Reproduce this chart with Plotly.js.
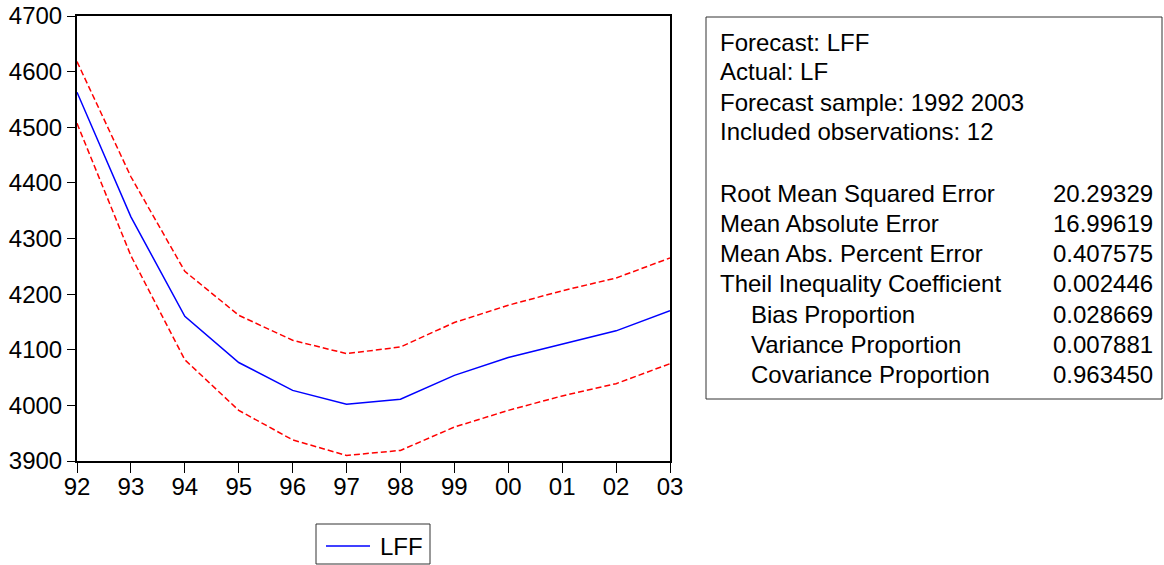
<!DOCTYPE html>
<html>
<head>
<meta charset="utf-8">
<script src="https://cdn.plot.ly/plotly-3.0.1.min.js"></script>
<style>
html,body{margin:0;padding:0;background:#fff;}
#chart{width:1164px;height:565px;}
</style>
</head>
<body>
<div id="chart"></div>
<script>
// ---- data ----
const years = [1992, 1993, 1994, 1995, 1996, 1997, 1998, 1999, 2000, 2001, 2002, 2003];
const tickLabels = ['92', '93', '94', '95', '96', '97', '98', '99', '00', '01', '02', '03'];
const lff = [4563, 4339, 4160, 4077, 4027, 4002, 4011, 4054, 4086, 4110, 4134, 4170];
const upperBand = [4618, 4411, 4241, 4162, 4117, 4093, 4105, 4149, 4180, 4206, 4229, 4265];
const lowerBand = [4507, 4269, 4082, 3991, 3938, 3910, 3919, 3961, 3991, 4017, 4039, 4075];
const yTicks = [3900, 4000, 4100, 4200, 4300, 4400, 4500, 4600, 4700];
const seriesName = 'LFF';

const headerLines = ['Forecast: LFF', 'Actual: LF', 'Forecast sample: 1992 2003', 'Included observations: 12'];
const statLabels = ['Root Mean Squared Error', 'Mean Absolute Error', 'Mean Abs. Percent Error',
  'Theil Inequality Coefficient', 'Bias Proportion', 'Variance Proportion', 'Covariance Proportion'];
const statValues = ['20.29329', '16.99619', '0.407575', '0.002446', '0.028669', '0.007881', '0.963450'];
const statIndented = [false, false, false, false, true, true, true];

// ---- layout helpers (pixel -> paper) ----
const W = 1164, H = 565;
const M = {l: 77, r: 494, t: 16, b: 104, autoexpand: false};
const PW = W - M.l - M.r, PH = H - M.t - M.b;
const px = x => (x - M.l) / PW;
const py = y => (H - M.b - y) / PH;

const FONT = 'Liberation Sans, Arial, Helvetica, sans-serif';
const FS = 24;
const BLUE = '#0000FF', RED = '#FF0000';

const traces = [
  {x: years, y: upperBand, type: 'scatter', mode: 'lines', showlegend: false, hoverinfo: 'skip',
   line: {color: RED, width: 1.5, dash: '6px,3px'}},
  {x: years, y: lowerBand, type: 'scatter', mode: 'lines', showlegend: false, hoverinfo: 'skip',
   line: {color: RED, width: 1.5, dash: '6px,3px'}},
  {x: years, y: lff, type: 'scatter', mode: 'lines', name: seriesName, showlegend: false,
   line: {color: BLUE, width: 1.5}}
];

const annotations = [];
headerLines.forEach((t, i) => {
  annotations.push({xref: 'paper', yref: 'paper', x: px(718), y: py(42 + i * 30),
    xanchor: 'left', yanchor: 'middle', text: t, showarrow: false,
    font: {family: FONT, size: FS, color: '#000'}});
});
statLabels.forEach((t, i) => {
  const yc = 193 + i * 30.3;
  annotations.push({xref: 'paper', yref: 'paper', x: px(statIndented[i] ? 749 : 718), y: py(yc),
    xanchor: 'left', yanchor: 'middle', text: t, showarrow: false,
    font: {family: FONT, size: FS, color: '#000'}});
  annotations.push({xref: 'paper', yref: 'paper', x: px(1155), y: py(yc),
    xanchor: 'right', yanchor: 'middle', text: statValues[i], showarrow: false,
    font: {family: FONT, size: FS, color: '#000'}});
});
// legend label
annotations.push({xref: 'paper', yref: 'paper', x: px(378), y: py(546),
  xanchor: 'left', yanchor: 'middle', text: seriesName, showarrow: false,
  font: {family: FONT, size: FS, color: '#000'}});

const shapes = [
  // statistics box
  {type: 'rect', xref: 'paper', yref: 'paper', x0: px(706), x1: px(1162), y0: py(399), y1: py(17),
   line: {color: '#333', width: 1}, fillcolor: 'rgba(0,0,0,0)'},
  // legend box
  {type: 'rect', xref: 'paper', yref: 'paper', x0: px(316), x1: px(430), y0: py(564), y1: py(524),
   line: {color: '#333', width: 1}, fillcolor: 'rgba(0,0,0,0)'},
  // legend line sample
  {type: 'line', xref: 'paper', yref: 'paper', x0: px(326), x1: px(370), y0: py(546), y1: py(546),
   line: {color: BLUE, width: 1.5}}
];

const layout = {
  width: W, height: H,
  margin: M,
  paper_bgcolor: '#fff', plot_bgcolor: '#fff',
  font: {family: FONT, size: FS, color: '#000'},
  showlegend: false,
  xaxis: {range: [years[0], years[years.length - 1]], tickvals: years, ticktext: tickLabels,
    showgrid: false, zeroline: false, showline: true, linecolor: '#000', linewidth: 2, mirror: true,
    ticks: 'outside', ticklen: 3, tickwidth: 1, tickcolor: '#000',
    minor: {tickvals: years, ticks: 'outside', ticklen: 10, tickwidth: 1, tickcolor: '#000', showgrid: false},
    tickfont: {family: FONT, size: FS, color: '#000'}},
  yaxis: {range: [3900, 4700], tickvals: yTicks, ticktext: yTicks.map(String),
    showgrid: false, zeroline: false, showline: true, linecolor: '#000', linewidth: 2, mirror: true,
    ticks: 'outside', ticklen: 8, tickwidth: 1, tickcolor: '#000',
    tickfont: {family: FONT, size: FS, color: '#000'}},
  shapes: shapes,
  annotations: annotations
};

Plotly.newPlot('chart', traces, layout, {displayModeBar: false, staticPlot: true});
</script>
</body>
</html>
